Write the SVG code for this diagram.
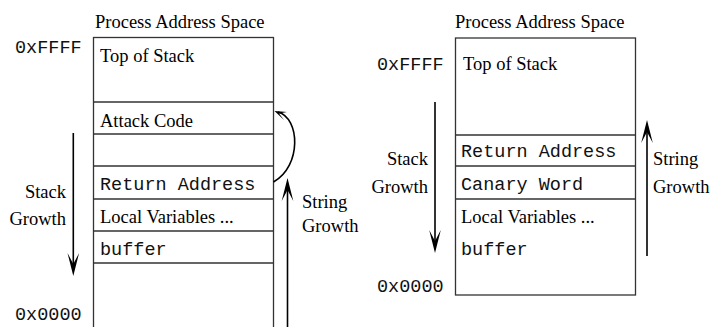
<svg xmlns="http://www.w3.org/2000/svg" width="711" height="327" viewBox="0 0 711 327">
<defs>
<style>
.t{font-family:"Liberation Serif","Times New Roman",serif;font-size:18.5px;fill:#000}
.m{font-family:"Liberation Mono","Courier New",monospace;font-size:18.5px;fill:#111}
.box{fill:#fff;stroke:#333;stroke-width:1.3}
.sep{stroke:#333;stroke-width:1.3}
.arr{stroke:#000;stroke-width:1.6;fill:none}
.head{fill:#000;stroke:none}
</style>
</defs>
<rect width="711" height="327" fill="#fff"/>
<g id="left-stack">
<text class="t" x="95" y="28">Process Address Space</text>
<text class="m" x="15" y="53">0xFFFF</text>
<rect class="box" x="93.5" y="37.5" width="180" height="300"/>
<line class="sep" x1="93.5" y1="102" x2="273.5" y2="102"/>
<line class="sep" x1="93.5" y1="134" x2="273.5" y2="134"/>
<line class="sep" x1="93.5" y1="166" x2="273.5" y2="166"/>
<line class="sep" x1="93.5" y1="199" x2="273.5" y2="199"/>
<line class="sep" x1="93.5" y1="231" x2="273.5" y2="231"/>
<line class="sep" x1="93.5" y1="263" x2="273.5" y2="263"/>
<text class="t" x="100" y="62">Top of Stack</text>
<text class="t" x="100" y="127">Attack Code</text>
<text class="m" x="100" y="190">Return Address</text>
<text class="t" x="100" y="223">Local Variables ...</text>
<text class="m" x="100" y="255">buffer</text>
<text class="m" x="15" y="320">0x0000</text>
<text class="t" x="66" y="198" text-anchor="end">Stack</text>
<text class="t" x="66" y="225" text-anchor="end">Growth</text>
<text class="t" x="302" y="208">String</text>
<text class="t" x="302" y="232">Growth</text>
</g>
<g id="right-stack">
<text class="t" x="455" y="28">Process Address Space</text>
<text class="m" x="377" y="70">0xFFFF</text>
<rect class="box" x="455.5" y="38" width="180" height="257"/>
<line class="sep" x1="455.5" y1="135" x2="635.5" y2="135"/>
<line class="sep" x1="455.5" y1="166" x2="635.5" y2="166"/>
<line class="sep" x1="455.5" y1="199" x2="635.5" y2="199"/>
<text class="t" x="463" y="70">Top of Stack</text>
<text class="m" x="461" y="157">Return Address</text>
<text class="m" x="461" y="190">Canary Word</text>
<text class="t" x="461" y="223">Local Variables ...</text>
<text class="m" x="461" y="255">buffer</text>
<text class="m" x="377" y="292">0x0000</text>
<text class="t" x="428" y="165" text-anchor="end">Stack</text>
<text class="t" x="428" y="193" text-anchor="end">Growth</text>
<text class="t" x="653" y="165">String</text>
<text class="t" x="653" y="193">Growth</text>
</g>
<g id="connectors">
<line class="arr" x1="73.3" y1="133" x2="73.3" y2="268"/>
<path class="head" d="M73.3,276 L67.5,253 L73.3,264 L79.1,253 Z"/>
<line class="arr" x1="287.5" y1="186" x2="287.5" y2="327"/>
<path class="head" d="M287.5,178 L281.7,201 L287.5,190 L293.3,201 Z"/>
<path class="arr" d="M273.5,182 C302,166 300,118 278,112"/>
<path class="head" d="M274.5,111 L287,112 L279,113.5 L284,120 Z"/>
<line class="arr" x1="435" y1="102" x2="435" y2="245"/>
<path class="head" d="M435,253 L429.2,230 L435,241 L440.8,230 Z"/>
<line class="arr" x1="647" y1="128" x2="647" y2="256"/>
<path class="head" d="M647,120 L641.2,143 L647,132 L652.8,143 Z"/>
</g>
</svg>
